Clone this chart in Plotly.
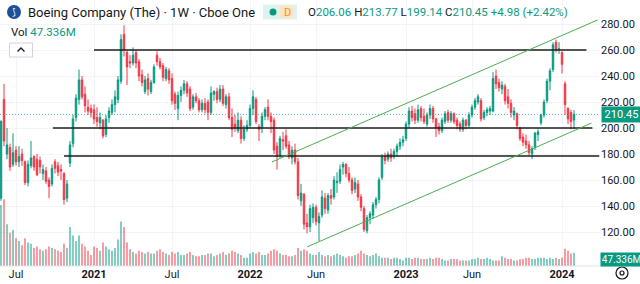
import plotly.graph_objects as go
import pandas as pd

# ---------------- data (weekly, BA, Cboe One) ----------------
dates = pd.date_range("2020-06-01", periods=192, freq="7D")

ohlc_2020 = [
    (146,206,144,205),(222,234,186,190),(180,200,176,187),(185,188,167,170),(172,196,170,181),
    (183,186,171,174),(174,186,170,178),(180,184,171,175),(174,175,156,158),(158,175,155,172),
    (171,190,169,177),(178,179,167,170),(176,180,163,164),(175,178,165,170),(165,172,160,168),
    (167,170,157,159),(160,162,146,155),(157,172,155,169),(174,176,165,169),(171,174,163,166),
    (168,172,160,167),(165,166,141,145),(146,160,143,157),(173,190,170,187),(188,210,185,207),
    (208,226,205,223),(222,245,218,237),(237,240,222,224),(226,232,212,217),(216,222,210,213),
    (215,218,208,212),
]
ohlc_2021 = [
    (214,218,203,207),(208,216,201,205),(204,212,199,208),(206,207,192,194),(195,210,193,207),
    (208,216,204,213),(212,222,210,218),(218,229,212,224),(222,240,219,237),(236,272,234,268),
    (272,279,255,260),(258,260,233,247),(251,256,246,250),(250,262,248,256),(258,260,246,250),
    (251,253,236,240),(241,245,232,235),(228,240,226,237),(238,242,225,230),(228,237,226,235),
    (235,249,234,247),(256,259,248,251),(251,254,245,247),(248,250,236,239),(238,247,236,245),
    (244,246,234,237),(238,242,218,221),(226,228,214,219),(215,228,206,225),(225,232,220,229),
    (229,237,226,234),(234,236,224,227),(230,232,213,215),(216,226,214,224),(224,227,219,221),
    (221,223,212,214),(214,222,212,219),(219,223,211,214),(220,222,206,212),(212,232,210,227),
    (226,229,221,228),(228,231,219,222),(222,233,220,230),(230,233,217,219),(218,226,215,224),
    (224,227,206,208),(208,215,193,199),(203,210,197,200),(198,212,196,206),(206,209,188,192),
    (192,202,190,199),(199,206,197,202),
]
ohlc_2022 = [
    (202,218,200,215),(215,229,210,224),(222,224,203,205),(201,203,190,199),(200,212,196,209),
    (209,216,206,214),(216,222,206,209),(209,212,196,205),(206,208,180,183),(186,189,168,178),
    (179,194,177,192),(191,197,183,190),(194,199,184,186),(187,190,176,178),(177,186,172,183),
    (183,188,172,174),(174,177,145,148),(144,157,140,150),(149,150,122,126),(127,134,119,124),
    (124,141,120,138),(131,142,127,139),(139,141,125,128),(127,135,113,132),(133,152,131,147),
    (146,150,134,138),(137,150,134,148),(148,153,141,146),(147,163,145,160),(158,166,150,159),
    (159,172,157,168),(170,174,164,172),(172,173,162,165),(165,170,158,160),(160,162,149,152),
    (153,162,150,158),(157,160,144,147),(147,149,136,139),(138,140,120,122),(121,133,119,131),
    (131,136,126,134),(133,143,130,141),(141,147,138,145),(145,162,142,160),(162,180,160,178),
    (178,181,172,175),(176,182,174,180),(180,184,174,177),(178,184,176,182),(182,188,178,186),
    (186,192,183,189),(189,194,186,191),
]
ohlc_2023 = [
    (192,205,190,203),(203,216,200,213),(213,217,205,208),(211,215,203,206),(206,218,204,214),
    (215,217,205,208),(209,215,203,205),(203,212,201,210),(210,218,207,215),(215,217,204,207),
    (207,208,193,200),(201,204,195,198),(198,208,196,206),(205,213,203,211),(212,214,204,206),
    (206,213,204,211),(211,212,203,205),(206,208,199,202),(203,205,197,199),(199,208,197,206),
    (206,207,199,202),(202,212,200,210),(210,218,208,216),(216,223,214,221),(220,226,218,224),
    (221,223,205,207),(208,214,206,212),(212,216,209,214),(213,217,210,215),(213,243,212,238),
    (240,245,230,234),(235,238,228,231),(230,236,226,233),(232,234,218,221),(224,230,215,219),
    (219,222,208,212),(210,216,206,213),(211,212,199,202),(200,201,190,192),(193,196,186,189),
    (190,195,184,187),(187,190,179,181),(180,186,176,184),(185,197,183,196),(195,199,190,197),
    (204,211,202,210),(210,222,208,220),(221,238,219,236),(236,246,229,244),(245,266,243,264),
    (266,268,258,260),(260,266,257,261),
]
ohlc_2024 = [
    (258,259,242,249),(234,236,210,218),(215,216,203,207),(212,214,199,205),
    (206.06,213.77,199.14,210.45),
]
rows = ohlc_2020 + ohlc_2021 + ohlc_2022 + ohlc_2023 + ohlc_2024
opens = [r[0] for r in rows]
highs = [r[1] for r in rows]
lows = [r[2] for r in rows]
closes = [r[3] for r in rows]

volumes = [  # millions
    220, 240, 150, 120, 130, 100, 90, 75, 100, 85, 80, 65, 70, 60, 55, 60, 70, 65, 60, 55,
    50, 80, 65, 140, 110, 90, 110, 80, 70, 55, 40,
    70, 65, 55, 85, 70, 60, 55, 65, 95, 160, 140, 85, 60, 50, 45, 55, 50, 45, 50, 45,
    45, 55, 60, 50, 45, 40, 50, 45, 50, 40, 40, 45, 50, 40, 35, 35, 40, 40, 45, 45,
    35, 40, 45, 50, 40, 45, 55, 50, 45, 40, 30, 30,
    45, 50, 45, 50, 40, 40, 45, 55, 60, 55, 45, 40, 40, 35, 35, 40, 65, 55, 60, 55,
    45, 40, 40, 50, 40, 35, 40, 35, 40, 45, 40, 35, 30, 35, 35, 40, 45, 55, 45, 40,
    35, 40, 45, 35, 30, 30, 30, 25, 30, 30, 25, 20,
    30, 30, 25, 30, 30, 25, 25, 25, 30, 25, 30, 30, 25, 20, 20, 25, 25, 25, 20, 20,
    20, 20, 25, 25, 30, 25, 25, 30, 25, 20, 20, 20, 35, 30, 25, 25, 20, 20, 25, 25,
    30, 30, 25, 25, 30, 30, 30, 25, 30, 25, 30, 25,
    30, 62, 55, 45, 47.336,
]
assert len(rows) == 192 and len(volumes) == 192

price_ticks = [120, 140, 160, 180, 200, 220, 240, 260, 280]
time_ticks = ["2020-07-06", "2021-01-04", "2021-07-05", "2022-01-03", "2022-06-06",
              "2023-01-02", "2023-06-05", "2024-01-01"]
time_labels = ["Jul", "<b>2021</b>", "Jul", "<b>2022</b>", "Jun", "<b>2023</b>", "Jun", "<b>2024</b>"]

# drawings: horizontal levels and a rising channel
levels = [260, 200, 178.5]
level_starts = ["2021-01-04", "2020-09-30", "2020-10-26"]
level_ends = ["2024-02-27", "2024-03-12", "2024-03-28"]
channel_upper = [("2022-02-23", 173.8), ("2024-03-24", 283.1)]
channel_lower = [("2022-05-16", 108.5), ("2024-03-10", 203.8)]
last_close = 210.45
last_volume = 47.336

# ---------------- styling ----------------
UP = "#089981"
DN = "#F23645"
TXT = "#131722"
GRID = "#f2f4f8"
FONT = "Roboto"

PW, PH = 600, 266  # plot area in px


def px(x):
    return x / PW


def py(y):
    return 1 - y / PH


anchor = pd.Timestamp("2021-01-04")
x_lo = anchor - pd.Timedelta(days=94 / 3 * 7)
x_hi = anchor + pd.Timedelta(days=(PW - 94) / 3 * 7)
y_lo = 260 - (PH - 50) / 1.3
y_hi = 260 + 50 / 1.3

fig = go.Figure()

vol_colors = ["rgba(8,153,129,0.5)" if c >= o else "rgba(242,54,69,0.5)" for o, c in zip(opens, closes)]
fig.add_trace(go.Bar(x=dates, y=volumes, marker=dict(color=vol_colors, line=dict(width=0)),
                     width=4.6 * 86400000, yaxis="y", hoverinfo="skip"))

fig.add_trace(go.Candlestick(
    x=dates, open=opens, high=highs, low=lows, close=closes, yaxis="y2",
    increasing=dict(line=dict(color=UP, width=1), fillcolor=UP),
    decreasing=dict(line=dict(color=DN, width=1), fillcolor=DN),
    whiskerwidth=0,
))

shapes = []
for lvl, s, e in zip(levels, level_starts, level_ends):
    shapes.append(dict(type="line", xref="x", yref="y2", x0=s, x1=e, y0=lvl, y1=lvl,
                       line=dict(color="#1e1e1e", width=1.6)))
for ch in (channel_upper, channel_lower):
    shapes.append(dict(type="line", xref="x", yref="y2", x0=ch[0][0], y0=ch[0][1],
                       x1=ch[1][0], y1=ch[1][1], line=dict(color="#4caf50", width=1)))
shapes.append(dict(type="line", xref="paper", yref="y2", x0=0, x1=1, y0=last_close, y1=last_close,
                   line=dict(color="rgba(8,153,129,0.7)", width=1, dash="1px,2px")))
# header logo
shapes.append(dict(type="circle", xref="paper", yref="paper", x0=px(7), x1=px(21), y0=py(19), y1=py(5),
                   fillcolor="#1d4f9a", line=dict(width=0)))
# status pill
shapes.append(dict(type="rect", xref="paper", yref="paper", x0=px(263), x1=px(297), y0=py(19.5), y1=py(4.5),
                   fillcolor="#def3ee", line=dict(width=0)))
shapes.append(dict(type="rect", xref="paper", yref="paper", x0=px(280), x1=px(294), y0=py(18), y1=py(6),
                   fillcolor="#ffe3c2", line=dict(width=0)))
shapes.append(dict(type="circle", xref="paper", yref="paper", x0=px(269.5), x1=px(276.5), y0=py(15.5), y1=py(8.5),
                   fillcolor=UP, line=dict(width=0)))
# collapse button
shapes.append(dict(type="rect", xref="paper", yref="paper", x0=px(9.5), x1=px(32.5), y0=py(57), y1=py(43),
                   fillcolor="white", line=dict(color="#d1d4dc", width=1)))
shapes.append(dict(type="path", xref="paper", yref="paper",
                   path=f"M {px(17.5)},{py(51.5)} L {px(21)},{py(48)} L {px(24.5)},{py(51.5)}",
                   line=dict(color=TXT, width=1.3)))
# time-axis separator and gear
shapes.append(dict(type="line", xref="paper", yref="paper", x0=0, x1=640 / PW, y0=0, y1=0,
                   line=dict(color="#e0e3eb", width=1)))
shapes.append(dict(type="circle", xref="paper", yref="paper", x0=px(616), x1=px(628), y0=py(279), y1=py(267),
                   line=dict(color=TXT, width=1.2)))
shapes.append(dict(type="circle", xref="paper", yref="paper", x0=px(620), x1=px(624), y0=py(275), y1=py(271),
                   line=dict(color=TXT, width=1.2)))

ann = []
ann.append(dict(xref="paper", yref="paper", x=px(14), y=py(12), text="⟆", showarrow=False,
                font=dict(color="white", size=9, family="DejaVu Sans"), xanchor="center", yanchor="middle"))
ann.append(dict(xref="paper", yref="paper", x=px(26), y=py(12.5),
                text="Boeing Company (The) · 1W · Cboe One", showarrow=False,
                font=dict(color=TXT, size=13, family=FONT), xanchor="left", yanchor="middle"))
ann.append(dict(xref="paper", yref="paper", x=px(287), y=py(12.5), text="D", showarrow=False,
                font=dict(color="#f7931a", size=11, family=FONT), xanchor="center", yanchor="middle"))
g = lambda s: f"<span style='color:{UP}'>{s}</span>"
ohlc_text = (f"O{g(f'{opens[-1]:.2f}')} H{g(f'{highs[-1]:.2f}')} L{g(f'{lows[-1]:.2f}')} "
             f"C{g(f'{closes[-1]:.2f}')} {g('+4.98 (+2.42%)')}")
ann.append(dict(xref="paper", yref="paper", x=px(306), y=py(12.5), text=ohlc_text, showarrow=False,
                font=dict(color=TXT, size=11.5, family=FONT), xanchor="left", yanchor="middle"))
ann.append(dict(xref="paper", yref="paper", x=px(9), y=py(31.5), text=f"Vol {g(f'{last_volume:.3f}M')}",
                showarrow=False, font=dict(color=TXT, size=11.5, family=FONT), xanchor="left", yanchor="middle"))
# price / volume tags on the scale
ann.append(dict(xref="paper", yref="y2", x=1, y=last_close, text=f"{last_close:.2f}", showarrow=False,
                xanchor="left", yanchor="middle", bgcolor=UP, font=dict(color="white", size=11, family=FONT),
                borderpad=1, xshift=1, width=37))
ann.append(dict(xref="paper", yref="paper", x=1, y=py(259), text=f"{last_volume:.3f}M", showarrow=False,
                xanchor="left", yanchor="middle", bgcolor=UP, font=dict(color="white", size=10, family=FONT),
                borderpad=1, xshift=0, width=39))

fig.update_layout(
    width=640, height=284, margin=dict(l=0, r=640 - PW, t=0, b=284 - PH),
    paper_bgcolor="white", plot_bgcolor="white", showlegend=False,
    font=dict(family=FONT, color=TXT, size=11),
    xaxis=dict(type="date", range=[x_lo, x_hi], rangeslider=dict(visible=False),
               tickvals=time_ticks, ticktext=time_labels, showgrid=True, gridcolor=GRID,
               ticks="", showline=False, zeroline=False, tickfont=dict(size=11, color=TXT, family=FONT)),
    yaxis=dict(range=[0, 3.6 * PH], visible=False, showgrid=False, fixedrange=True),
    yaxis2=dict(overlaying="y", side="right", range=[y_lo, y_hi], tickvals=price_ticks,
                ticktext=[f"{v:.2f}" for v in price_ticks], showgrid=True, gridcolor=GRID,
                ticks="", showline=False, zeroline=False, tickfont=dict(size=11, color=TXT, family=FONT)),
    shapes=shapes, annotations=ann,
)

fig.write_html("out.html")
